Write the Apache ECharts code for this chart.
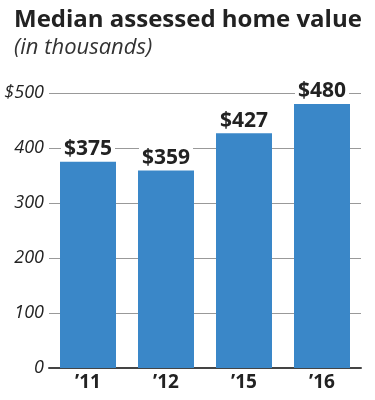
<!DOCTYPE html>
<html><head><meta charset="utf-8">
<script src="https://cdn.jsdelivr.net/npm/echarts@6/dist/echarts.min.js"></script>
<style>html,body{margin:0;padding:0;background:#fff}#c{width:375px;height:400px}</style>
</head><body><div id="c"></div>
<script>
var categories = ["\u201911", "\u201912", "\u201915", "\u201916"];
var values = [375, 359, 427, 480];
var tickValues = [0, 100, 200, 300, 400, 500];
var titleText = "Median assessed home value";
var subtitleText = "(in thousands)";

var chart = echarts.init(document.getElementById('c'));
chart.setOption({
  animation: false,
  title: {
    text: titleText, subtext: subtitleText, left: 9, top: 3, itemGap: 5,
    textStyle: {fontFamily: 'Open Sans', fontWeight: 'bold', fontSize: 24, color: '#222'},
    subtextStyle: {fontFamily: 'Open Sans', fontStyle: 'italic', fontSize: 22, color: '#333'}
  },
  grid: {left: 49, right: 14, top: 93, bottom: 32},
  xAxis: {
    type: 'category', data: categories,
    axisLine: {lineStyle: {color: '#444', width: 2}},
    axisTick: {show: false},
    axisLabel: {fontFamily: 'Open Sans', fontWeight: 'bold', fontSize: 19, color: '#222', margin: 5}
  },
  yAxis: {
    type: 'value', min: 0, max: 500, interval: 100,
    axisLine: {show: false}, axisTick: {show: false},
    splitLine: {lineStyle: {color: '#999', width: 1}},
    axisLabel: {fontFamily: 'Open Sans', fontStyle: 'italic', fontSize: 18, color: '#222', margin: 5,
      formatter: function(v){ return v === tickValues[tickValues.length-1] ? '$' + v : String(v); }}
  },
  series: [{
    type: 'bar', data: values, barWidth: 56,
    itemStyle: {color: '#3a87c8'},
    label: {show: true, position: 'top', distance: 2, formatter: '${c}',
      fontFamily: 'Open Sans', fontWeight: 'bold', fontSize: 21, color: '#222',
      backgroundColor: '#fff', padding: [0, 3, 0, 3]}
  }]
});
</script></body></html>
